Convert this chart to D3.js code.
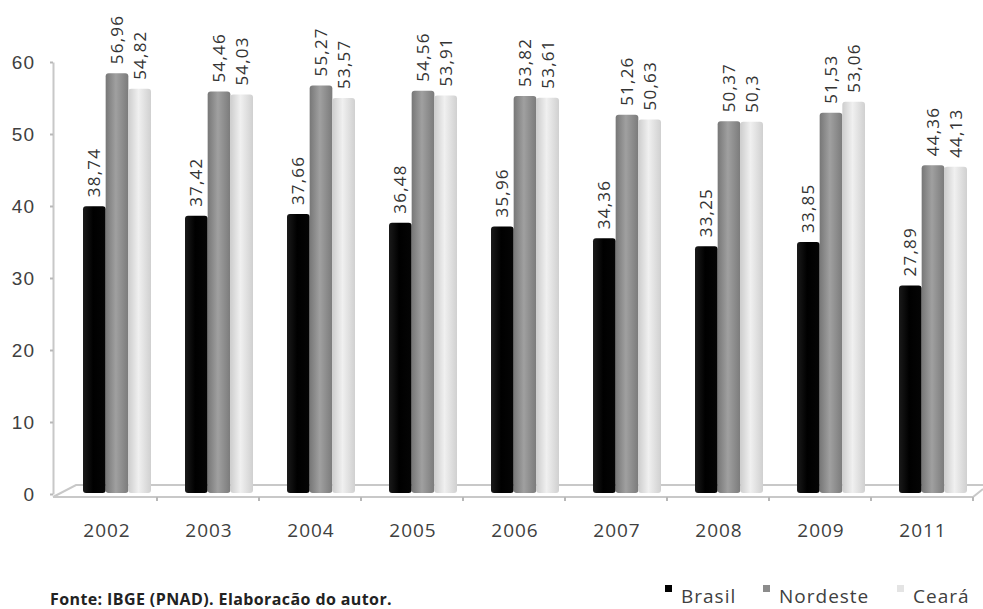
<!DOCTYPE html>
<html>
<head>
<meta charset="utf-8">
<script src="https://cdn.jsdelivr.net/npm/d3@7"></script>
<style>
  body { margin: 0; background: #fff; }
  svg { display: block; font-family: "Open Sans", sans-serif; }
</style>
</head>
<body>
<div id="chart"></div>
<script>
const years = ['2002', '2003', '2004', '2005', '2006', '2007', '2008', '2009', '2011'];
const series = ['Brasil', 'Nordeste', 'Ceará'];
const brasil = [38.74, 37.42, 37.66, 36.48, 35.96, 34.36, 33.25, 33.85, 27.89];
const nordeste = [56.96, 54.46, 55.27, 54.56, 53.82, 51.26, 50.37, 51.53, 44.36];
const ceara = [54.82, 54.03, 53.57, 53.91, 53.61, 50.63, 50.3, 53.06, 44.13];
const yTicks = [0, 10, 20, 30, 40, 50, 60];

const values = [brasil, nordeste, ceara];
const width = 983, height = 609;

const svg = d3.select('#chart').append('svg')
  .attr('width', width)
  .attr('height', height);

// cylinder-ish shading for each series
const shades = [
  ['#1a1a1a', '#000000', '#050505'],
  ['#777777', '#a0a0a0', '#7b7b7b'],
  ['#cdcdcd', '#f0f0f0', '#d0d0d0']
];
const defs = svg.append('defs');
shades.forEach((s, i) => {
  const g = defs.append('linearGradient').attr('id', 'g' + i)
    .attr('x1', '0%').attr('x2', '100%').attr('y1', '0%').attr('y2', '0%');
  g.append('stop').attr('offset', '0%').attr('stop-color', s[0]);
  g.append('stop').attr('offset', '45%').attr('stop-color', s[1]);
  g.append('stop').attr('offset', '100%').attr('stop-color', s[2]);
});

const x = d3.scaleBand().domain(years).range([55, 973]).padding(0);
const x1 = d3.scaleBand().domain(series).range([28, 96]).padding(0);
const y = d3.scaleLinear().domain([0, 60]).range([494, 62]);
// bars sit a bit back in depth, so their scale is shifted up
const yBar = d3.scaleLinear().domain([0, 60]).range([489, 51]);
const barBottom = 493;

// floor
const floor = svg.append('g').attr('stroke', '#c8c8c8').attr('stroke-width', 2).attr('fill', 'none');
floor.append('path').attr('d', `M53,497 L973,497 L983,489`);
floor.append('path').attr('d', `M53,497 L76,485 L983,485`);

// x tick marks at band boundaries
svg.append('g').selectAll('line')
  .data(years.slice(1).concat(['end']))
  .enter().append('line')
  .attr('x1', d => d === 'end' ? 973 : x(d))
  .attr('x2', d => d === 'end' ? 973 : x(d))
  .attr('y1', 497).attr('y2', 501)
  .attr('stroke', '#b8b8b8').attr('stroke-width', 2);

// y axis
const yAxis = svg.append('g')
  .attr('transform', 'translate(53,0)')
  .call(d3.axisLeft(y).tickValues(yTicks).tickSize(3).tickSizeOuter(0).tickPadding(15));
yAxis.select('.domain').attr('stroke', '#c8c8c8').attr('stroke-width', 2);
yAxis.selectAll('.tick line').attr('stroke', '#b8b8b8').attr('stroke-width', 2);
yAxis.selectAll('.tick text')
  .attr('fill', '#404040')
  .style('font-size', '19px')
  .style('letter-spacing', '1px');

// x labels
svg.append('g').selectAll('text')
  .data(years)
  .enter().append('text')
  .attr('x', d => x(d) + x.bandwidth() / 2 + 1)
  .attr('y', 537)
  .attr('text-anchor', 'middle')
  .attr('fill', '#404040')
  .style('font-size', '19px')
  .style('letter-spacing', '1px')
  .text(d => d);

// bars
const groups = svg.append('g').selectAll('g')
  .data(years)
  .enter().append('g')
  .attr('transform', d => `translate(${x(d)},0)`);

const barData = (d, i) => series.map((s, k) => ({ s, k, v: values[k][i] }));

groups.selectAll('rect')
  .data((d, i) => barData(d, i))
  .enter().append('rect')
  .attr('x', d => x1(d.s))
  .attr('width', x1.bandwidth())
  .attr('y', d => yBar(d.v))
  .attr('height', d => barBottom - yBar(d.v))
  .attr('rx', 3)
  .attr('fill', d => `url(#g${d.k})`);

// value labels
groups.selectAll('text')
  .data((d, i) => barData(d, i))
  .enter().append('text')
  .attr('transform', d => `translate(${x1(d.s) + x1.bandwidth() / 2 + 6},${yBar(d.v) - 9}) rotate(-90)`)
  .attr('fill', '#333')
  .style('font-size', '17px')
  .style('letter-spacing', '1.2px')
  .text(d => String(d.v).replace('.', ','));

// source note
svg.append('text')
  .attr('x', 50)
  .attr('y', 605)
  .attr('fill', '#222')
  .style('font-size', '16px')
  .style('font-weight', 'bold')
  .style('letter-spacing', '0.4px')
  .text('Fonte: IBGE (PNAD). Elaboracão do autor.');

// legend
const legendX = [665, 763, 897];
const legendFill = ['#000', '#8c8c8c', '#e4e4e4'];
const legend = svg.append('g').selectAll('g')
  .data(series)
  .enter().append('g')
  .attr('transform', (d, i) => `translate(${legendX[i]},0)`);
legend.append('rect')
  .attr('x', 0).attr('y', 585)
  .attr('width', 7).attr('height', 7)
  .attr('fill', (d, i) => legendFill[i]);
legend.append('text')
  .attr('x', 16).attr('y', 603)
  .attr('fill', '#404040')
  .style('font-size', '19px')
  .style('letter-spacing', '1px')
  .text(d => d);
</script>
</body>
</html>
